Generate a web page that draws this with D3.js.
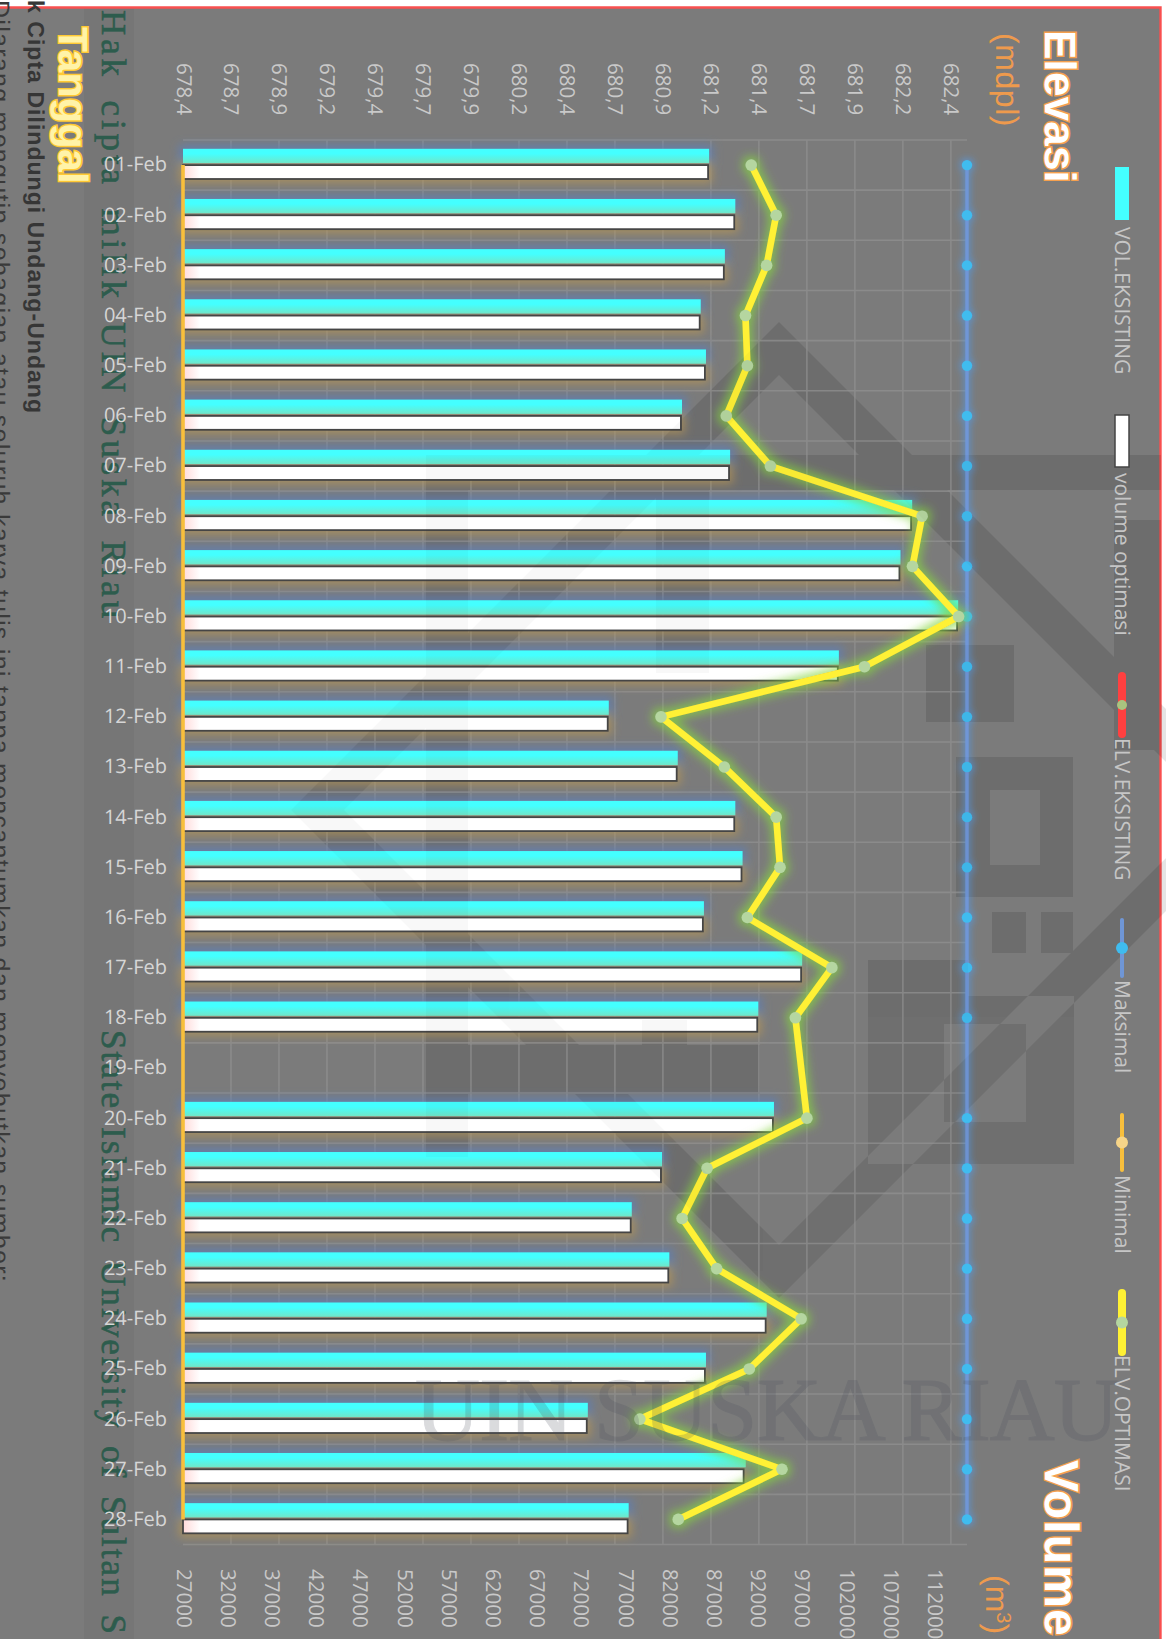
<!DOCTYPE html>
<html>
<head>
<meta charset="utf-8">
<script src="https://cdn.jsdelivr.net/npm/d3@7"></script>
<style>
html,body{margin:0;padding:0;background:#fff;overflow:hidden}
svg{display:block}
text{font-family:"Open Sans","Noto Sans",sans-serif;text-rendering:geometricPrecision}
</style>
</head>
<body>
<svg id="chart" width="1166" height="1639"></svg>
<script>
// Daily reservoir operation for February: stored volume and water elevation
const categories = ["01-Feb","02-Feb","03-Feb","04-Feb","05-Feb","06-Feb","07-Feb","08-Feb","09-Feb","10-Feb","11-Feb","12-Feb","13-Feb","14-Feb","15-Feb","16-Feb","17-Feb","18-Feb","19-Feb","20-Feb","21-Feb","22-Feb","23-Feb","24-Feb","25-Feb","26-Feb","27-Feb","28-Feb"];
const volEksisting = [86500,89460,88280,85550,86140,83430,88870,109460,108140,114660,101170,75150,82950,89460,90280,85910,97020,92060,null,93830,81170,77750,82000,93010,86140,72780,90640,77400];
const volOptimasi  = [86380,89340,88160,85430,86020,83310,88750,109340,108020,114540,101050,75030,82830,89340,90160,85790,96900,91940,null,93710,81050,77630,81880,92890,86020,72660,90400,77280];
const elvEksisting = [681.36,681.49,681.44,681.33,681.34,681.23,681.46,682.25,682.20,682.44,681.95,680.89,681.22,681.49,681.51,681.34,681.78,681.59,null,681.65,681.13,681.00,681.18,681.62,681.35,680.78,681.52,680.98];
const elvOptimasi  = [681.36,681.49,681.44,681.33,681.34,681.23,681.46,682.25,682.20,682.44,681.95,680.89,681.22,681.49,681.51,681.34,681.78,681.59,null,681.65,681.13,681.00,681.18,681.62,681.35,680.78,681.52,680.98];
const elvMaksimal  = categories.map((c, i) => i === 18 ? null : 682.484);
const elvMinimal   = categories.map((c, i) => i === 18 ? null : 678.4);

const elevTicks  = [678.4,678.65,678.9,679.15,679.4,679.65,679.9,680.15,680.4,680.65,680.9,681.15,681.4,681.65,681.9,682.15,682.4];
const elevLabels = ["678,4","678,7","678,9","679,2","679,4","679,7","679,9","680,2","680,4","680,7","680,9","681,2","681,4","681,7","681,9","682,2","682,4"];
const volTicks   = [27000,32000,37000,42000,47000,52000,57000,62000,67000,72000,77000,82000,87000,92000,97000,102000,107000,112000];

const legendItems = [
  {label:"VOL.EKSISTING", kind:"bar", fill:"#44ffff", y0:167, y1:220, ty:227},
  {label:"volume optimasi", kind:"bar", fill:"#ffffff", stroke:"#444", y0:415, y1:467, ty:473},
  {label:"ELV.EKSISTING", kind:"line", color:"#ff4040", w:8, dot:"#a9c47f", r:5, y0:676, y1:734, ty:738},
  {label:"Maksimal", kind:"line", color:"#6f96d6", w:4, dot:"#3fbcef", r:6, y0:920, y1:976, ty:980},
  {label:"Minimal", kind:"line", color:"#f8bf3c", w:4, dot:"#f6d488", r:6, y0:1115, y1:1170, ty:1175},
  {label:"ELV.OPTIMASI", kind:"line", color:"#fff134", w:8, dot:"#b5d6a0", r:6, y0:1293, y1:1352, ty:1355}
];

const svg = d3.select("#chart");
const defs = svg.append("defs");

function glow(id, color, spread, blur, opacity, keepSource) {
  const f = defs.append("filter").attr("id", id)
    .attr("filterUnits", "userSpaceOnUse")
    .attr("x", 0).attr("y", 0).attr("width", 1166).attr("height", 1639);
  f.append("feMorphology").attr("in", "SourceAlpha").attr("operator", "dilate").attr("radius", spread).attr("result", "d");
  f.append("feGaussianBlur").attr("in", "d").attr("stdDeviation", blur).attr("result", "b");
  f.append("feFlood").attr("flood-color", color).attr("flood-opacity", opacity);
  f.append("feComposite").attr("in2", "b").attr("operator", "in").attr("result", "g");
  const m = f.append("feMerge");
  m.append("feMergeNode").attr("in", "g");
  if (keepSource) m.append("feMergeNode").attr("in", "SourceGraphic");
}
glow("glowLine", "#86d640", 3, 5, 0.7, true);
glow("glowBlue", "#4f9df0", 2, 3.4, 0.55, true);
glow("haloCyan", "#5f7fb4", 4, 5, 0.82, false);
glow("haloWhite", "#b0935a", 4, 5, 0.82, false);

const cyanGrad = defs.append("linearGradient").attr("id", "cyanFill").attr("x1", 0).attr("x2", 0).attr("y1", 0).attr("y2", 1);
cyanGrad.append("stop").attr("offset", "0.35").attr("stop-color", "#44ffff");
cyanGrad.append("stop").attr("offset", "1").attr("stop-color", "#70e6c8");

const whiteGrad = defs.append("linearGradient").attr("id", "whiteFill").attr("gradientUnits", "userSpaceOnUse")
  .attr("x1", 184).attr("x2", 200).attr("y1", 0).attr("y2", 0);
whiteGrad.append("stop").attr("offset", "0").attr("stop-color", "#ffdcdc");
whiteGrad.append("stop").attr("offset", "1").attr("stop-color", "#ffffff");

// Page ground, framed on the top and right only
svg.append("rect").attr("x", 0).attr("y", 7).attr("width", 1161).attr("height", 1632).attr("fill", "#7b7b7b");
svg.append("rect").attr("x", 84).attr("y", 7).attr("width", 50).attr("height", 1632).attr("fill", "#000").attr("opacity", 0.035);
svg.append("path").attr("d", "M0,7.5H1160.5V1639").attr("fill", "none").attr("stroke", "#f95050").attr("stroke-width", 2.4);

// Institutional crest, drawn twice: strongly on the ground, faintly over the bars
function crest(parent, alpha) {
  const g = parent.append("g").attr("fill", "#000").attr("opacity", alpha);
  g.append("path").attr("fill-rule", "evenodd")
    .attr("d", "M779,322L1267,810L779,1298L291,810ZM779,375L344,810L779,1245L1214,810Z" +
               "M956,757H1073V897H956ZM990,790V865H1040V790Z" +
               "M868,996H1074V1164H868ZM944,1024V1122H1026V1024Z");
  const blocks = [
    [426,455,735,35],[426,490,42,667],[426,1045,334,49],[656,490,53,183],[926,645,88,77],
    [868,960,100,36],[992,912,34,41],[1041,912,32,41],[642,1020,45,25],[1114,520,47,230]
  ];
  blocks.forEach(b => g.append("rect").attr("x", b[0]).attr("y", b[1]).attr("width", b[2]).attr("height", b[3]));
}
crest(svg, 0.07);

// Scales
const plotL = 183, plotR = 967, plotT = 140, plotB = 1544.5;
const xElev = d3.scaleLinear().domain([678.4, 682.484]).range([plotL, plotR]);
const xVol  = d3.scaleLinear().domain([27000, 115660]).range([plotL, plotR]);
const yCat  = d3.scaleBand().domain(categories).range([plotT, plotB]);
const ySub  = d3.scaleBand().domain(["eks", "opt"]).range([8.8, 39.8]);
const rot = (x, y) => `translate(${x},${y}) rotate(90)`;

// Spreads a string to a run length with even tracking between its glyphs
function track(sel, len) {
  const natural = sel.node().getComputedTextLength();
  const n = sel.text().length;
  sel.style("letter-spacing", ((len - natural) / n) + "px");
}

// Repository notices running down the left margin
const note = (txt, x, y, size, len, fill, family, weight, edge, words) => {
  const t = svg.append("text").attr("transform", rot(x, y)).text(txt).attr("fill", fill)
    .style("font-size", size + "px").style("font-family", family).style("font-weight", weight || "normal");
  if (edge) t.attr("stroke", fill).attr("stroke-width", edge);
  if (words) t.style("word-spacing", words + "px");
  if (len) track(t, len);
};
note("Hak cipta milik UIN Suska Riau", 102, 10, 35, 612, "#2d5c4d", '"Liberation Serif",serif', "normal", 0.6, 8);
note("State Islamic University of Sultan S", 102, 1030, 35, 606, "#2d5c4d", '"Liberation Serif",serif', "normal", 0.6, 6);
note("k Cipta Dilindungi Undang-Undang", 28, 0, 23, 414, "#363636", '"Liberation Sans",Arial,sans-serif', "bold");
note("Dilarang mengutip sebagian atau seluruh karya tulis ini tanpa mencantumkan dan menyebutkan sumber:", -8, 0, 25, 1283, "#3a3a3a", '"Liberation Sans",Arial,sans-serif');

// Grid
const grid = svg.append("g").attr("stroke", "#8b8b8b").attr("stroke-width", 1.6);
grid.selectAll(".v").data(elevTicks.slice(1)).join("line")
  .attr("x1", d => xElev(d)).attr("x2", d => xElev(d)).attr("y1", plotT).attr("y2", plotB);
grid.selectAll(".h").data(categories.concat(["end"])).join("line")
  .attr("x1", plotL).attr("x2", plotR)
  .attr("y1", d => d === "end" ? plotB : yCat(d)).attr("y2", d => d === "end" ? plotB : yCat(d));

// Axes: every tick label runs down the page except the dates
const styleTicks = g => {
  g.select(".domain").remove();
  g.selectAll(".tick line").remove();
  g.selectAll("text").attr("fill", "#c9c9c9").style("font-size", "20.5px");
};
svg.append("g")
  .call(d3.axisTop(xElev).tickValues(elevTicks).tickFormat((d, i) => elevLabels[i]))
  .call(styleTicks)
  .selectAll("text").attr("text-anchor", "start").attr("dy", null).attr("dominant-baseline", "central")
  .each(function () { d3.select(this).attr("y", null).attr("transform", rot(0, 63)); });
svg.append("g")
  .call(d3.axisBottom(xVol).tickValues(volTicks).tickFormat(d3.format("d")))
  .call(styleTicks)
  .selectAll("text").attr("text-anchor", "start").attr("dy", null).attr("dominant-baseline", "central")
  .each(function () { d3.select(this).attr("y", null).attr("transform", rot(0, 1569)); });
svg.append("g").attr("transform", "translate(167,0)")
  .call(d3.axisLeft(yCat).tickSize(0).tickPadding(0))
  .call(g => {
    g.select(".domain").remove();
    g.selectAll("text").attr("fill", "#d6d6d6").style("font-size", "20px").attr("x", 0);
  });

// Bars: soft halos first, then the crisp rectangles above them
const rows = categories.map((c, i) => ({c, eks: volEksisting[i], opt: volOptimasi[i]})).filter(r => r.eks !== null);
const cyanBars = (g, fill) => g.selectAll("rect").data(rows).join("rect")
  .attr("x", plotL).attr("y", d => yCat(d.c) + ySub("eks"))
  .attr("width", d => xVol(d.eks) - plotL).attr("height", ySub.bandwidth() - 1.2)
  .attr("fill", fill);
const whiteBars = (g, fill, stroke) => g.selectAll("rect").data(rows).join("rect")
  .attr("x", plotL).attr("y", d => yCat(d.c) + ySub("opt") + 0.8)
  .attr("width", d => xVol(d.opt) - plotL).attr("height", ySub.bandwidth() - 1.6)
  .attr("fill", fill).attr("stroke", stroke).attr("stroke-width", 1.8);
cyanBars(svg.append("g").attr("filter", "url(#haloCyan)"), "#000");
whiteBars(svg.append("g").attr("filter", "url(#haloWhite)"), "#000", "none");
cyanBars(svg.append("g"), "url(#cyanFill)");
whiteBars(svg.append("g"), "url(#whiteFill)", "#454545");

// Line series run straight across the day without data
const lineOf = x => d3.line().x(d => x(d.v)).y(d => yCat(d.c) + yCat.bandwidth() / 2);
const pts = arr => categories.map((c, i) => ({c, v: arr[i]})).filter(d => d.v !== null);

function series(values, color, width, dot, r, filter) {
  const g = svg.append("g").attr("filter", filter ? `url(#${filter})` : null);
  g.append("path").datum(pts(values)).attr("d", lineOf(xElev)).attr("fill", "none")
    .attr("stroke", color).attr("stroke-width", width).attr("stroke-linejoin", "round");
  if (dot) g.selectAll("circle").data(pts(values)).join("circle")
    .attr("cx", d => xElev(d.v)).attr("cy", d => yCat(d.c) + yCat.bandwidth() / 2).attr("r", r).attr("fill", dot);
}
series(elvMinimal, "#f8bf3c", 3.6, null, 0, null);
series(elvMaksimal, "#6f96d6", 3.4, "#3fbcef", 5.2, "glowBlue");
series(elvEksisting, "#ff4040", 6, null, 0, null);
series(elvOptimasi, "#fff134", 6.6, "#b5d6a0", 5.8, "glowLine");

crest(svg, 0.025);
const mark = svg.append("text").text("UIN SUSKA RIAU").attr("x", 415).attr("y", 1440)
  .attr("fill", "#4a4e5c").attr("stroke", "#4a4e5c").attr("stroke-width", 1.2).attr("opacity", 0.2)
  .style("font-size", "90px").style("font-family", '"Liberation Serif",serif');
track(mark, 703);

// Axis titles
const title = (txt, x, y, size, len, fill, edge, weight) => {
  const t = svg.append("text").attr("transform", rot(x, y)).text(txt)
    .attr("fill", fill).style("font-size", size + "px").style("font-weight", weight)
    .style("font-family", '"Liberation Sans",Arial,sans-serif');
  if (edge) t.attr("stroke", edge).attr("stroke-width", 3).style("paint-order", "stroke");
  if (len) track(t, len);
  return t;
};
title("Elevasi", 1045, 30, 44, 153, "#fff", "#f5a04e", "bold");
title("Volume", 1045, 1460, 48, 177, "#fff", "#f5a04e", "bold");
title("(mdpl)", 996, 33, 32, 94, "#ee9a4d", null, "normal");
const unit = title("(m", 986, 1575, 32, null, "#ee9a4d", null, "normal");
unit.append("tspan").text("3").attr("dy", -11).style("font-size", "20px");
unit.append("tspan").text(")").attr("dy", 11);
title("Tanggal", 59, 27, 41, 157, "#fff3a8", "#ffc933", "bold");

// Legend
const legend = svg.append("g");
legendItems.forEach(it => {
  if (it.kind === "bar") {
    legend.append("rect").attr("x", 1115).attr("y", it.y0).attr("width", 14).attr("height", it.y1 - it.y0)
      .attr("fill", it.fill).attr("stroke", it.stroke || "none").attr("stroke-width", it.stroke ? 1.5 : 0);
  } else {
    legend.append("line").attr("x1", 1122).attr("x2", 1122).attr("y1", it.y0).attr("y2", it.y1)
      .attr("stroke", it.color).attr("stroke-width", it.w).attr("stroke-linecap", "round");
    legend.append("circle").attr("cx", 1122).attr("cy", (it.y0 + it.y1) / 2).attr("r", it.r).attr("fill", it.dot);
  }
  legend.append("text").attr("transform", rot(1115, it.ty)).text(it.label)
    .attr("fill", "#c6c6c6").style("font-size", "21px");
});
</script>
</body>
</html>
